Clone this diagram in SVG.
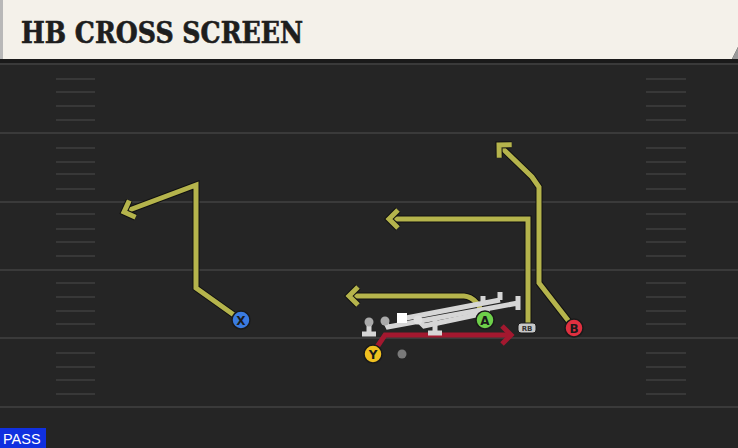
<svg xmlns="http://www.w3.org/2000/svg" width="738" height="448" viewBox="0 0 738 448">
<defs>
<style>
.yard{stroke:#3a3a3a;stroke-width:2}
.hash{stroke:#383838;stroke-width:2}
.out{fill:none;stroke:#111;stroke-width:7;stroke-linejoin:miter;stroke-linecap:butt}
.route{fill:none;stroke:#b5b44c;stroke-width:5;stroke-linejoin:miter}
.red{fill:none;stroke:#a3182f;stroke-width:5}
.blk{fill:none;stroke:#d6d6d6;stroke-width:5;stroke-linecap:butt}
.lbl{font-family:"DejaVu Sans","Liberation Sans",sans-serif;font-weight:bold;font-size:12px;fill:#1a1a1a;text-anchor:middle}
.pl{stroke:#1a1a1a;stroke-width:1.5}
</style>
<marker id="ay" markerUnits="userSpaceOnUse" markerWidth="26" markerHeight="26" refX="13" refY="13" orient="auto" viewBox="0 0 26 26">
<path d="M4,4 L13,13 L4,22" fill="none" stroke="#111" stroke-width="7"/>
<path d="M4,4 L13,13 L4,22" fill="none" stroke="#b5b44c" stroke-width="5"/>
</marker>
<marker id="ar" markerUnits="userSpaceOnUse" markerWidth="26" markerHeight="26" refX="13" refY="13" orient="auto" viewBox="0 0 26 26">
<path d="M4,4 L13,13 L4,22" fill="none" stroke="#a3182f" stroke-width="5"/>
</marker>
</defs>
<rect x="0" y="0" width="738" height="448" fill="#252525"/>
<g id="field">
<line class="yard" x1="0" y1="64" x2="738" y2="64"/>
<line class="yard" x1="0" y1="133" x2="738" y2="133"/>
<line class="yard" x1="0" y1="202" x2="738" y2="202"/>
<line class="yard" x1="0" y1="270" x2="738" y2="270"/>
<line class="yard" x1="0" y1="338" x2="738" y2="338"/>
<line class="yard" x1="0" y1="407" x2="738" y2="407"/>
<g class="hash">
<line x1="56" y1="79" x2="95" y2="79"/><line x1="56" y1="92" x2="95" y2="92"/><line x1="56" y1="106" x2="95" y2="106"/><line x1="56" y1="120" x2="95" y2="120"/>
<line x1="56" y1="148" x2="95" y2="148"/><line x1="56" y1="162" x2="95" y2="162"/><line x1="56" y1="174" x2="95" y2="174"/><line x1="56" y1="189" x2="95" y2="189"/>
<line x1="56" y1="214" x2="95" y2="214"/><line x1="56" y1="229" x2="95" y2="229"/><line x1="56" y1="242" x2="95" y2="242"/><line x1="56" y1="256" x2="95" y2="256"/>
<line x1="56" y1="283" x2="95" y2="283"/><line x1="56" y1="297" x2="95" y2="297"/><line x1="56" y1="311" x2="95" y2="311"/><line x1="56" y1="324" x2="95" y2="324"/>
<line x1="56" y1="353" x2="95" y2="353"/><line x1="56" y1="367" x2="95" y2="367"/><line x1="56" y1="380" x2="95" y2="380"/><line x1="56" y1="394" x2="95" y2="394"/>
<line x1="646" y1="79" x2="686" y2="79"/><line x1="646" y1="92" x2="686" y2="92"/><line x1="646" y1="106" x2="686" y2="106"/><line x1="646" y1="120" x2="686" y2="120"/>
<line x1="646" y1="148" x2="686" y2="148"/><line x1="646" y1="162" x2="686" y2="162"/><line x1="646" y1="174" x2="686" y2="174"/><line x1="646" y1="189" x2="686" y2="189"/>
<line x1="646" y1="214" x2="686" y2="214"/><line x1="646" y1="229" x2="686" y2="229"/><line x1="646" y1="242" x2="686" y2="242"/><line x1="646" y1="256" x2="686" y2="256"/>
<line x1="646" y1="283" x2="686" y2="283"/><line x1="646" y1="297" x2="686" y2="297"/><line x1="646" y1="311" x2="686" y2="311"/><line x1="646" y1="324" x2="686" y2="324"/>
<line x1="646" y1="353" x2="686" y2="353"/><line x1="646" y1="367" x2="686" y2="367"/><line x1="646" y1="380" x2="686" y2="380"/><line x1="646" y1="394" x2="686" y2="394"/>
</g>
</g>
<g id="header">
<rect x="0" y="58" width="738" height="5" fill="#1a1a1a"/>
<path d="M0,0 H738 V47 L732,59 H0 Z" fill="#f4f1ea"/>
<path d="M738,47 L732,59 H738 Z" fill="#9a9a9a"/>
<rect x="0" y="0" width="3" height="59" fill="#b8b8b8"/>
<text x="21" y="43" font-family="'DejaVu Serif','Liberation Serif',serif" font-weight="bold" font-size="29" font-stretch="condensed" fill="#1e1e1e" stroke="#1e1e1e" stroke-width="0.6" textLength="282" lengthAdjust="spacingAndGlyphs">HB CROSS SCREEN</text>
</g>
<g id="connectors">
<path class="out" d="M241,320 L196,288 L196,185 L124,212"/>
<path class="route" d="M241,320 L196,288 L196,185 L124,212" marker-end="url(#ay)"/>
<path class="out" d="M574,328 L539,283 L539,187 L532,177 L499,145"/>
<path class="route" d="M574,328 L539,283 L539,187 L532,177 L499,145" marker-end="url(#ay)"/>
<path class="out" d="M528,324 L528,219 L389,219"/>
<path class="route" d="M528,324 L528,219 L389,219" marker-end="url(#ay)"/>
<path class="out" d="M485,320 Q478,297 464,296 L349,296"/>
<path class="route" d="M485,320 Q478,297 464,296 L349,296" marker-end="url(#ay)"/>
<path class="red" d="M373,353 L385,335 L511,335" marker-end="url(#ar)"/>
</g>
<g id="blocks">
<path class="blk" d="M369,322 V334 M362,334 H376"/>
<circle cx="369" cy="322" r="4.5" fill="#aaaaaa"/>
<path class="blk" d="M385,321 L388,327 L518,303 M518,296 V310"/>
<circle cx="385" cy="321" r="4.5" fill="#aaaaaa"/>
<path class="blk" d="M406,318 L500,300 M500,300 V292 M483,303 V296"/>
<rect x="397" y="313" width="10" height="10" fill="#ffffff"/>
<path class="blk" d="M418,320 L424,326 L490,312"/>
<circle cx="418" cy="320" r="4.5" fill="#e0e0e0"/>
<path class="blk" d="M435,318 V333 M428,333 H442"/>
</g>
<g id="qb"><circle cx="402" cy="354" r="4.5" fill="#7a7a7a"/></g>
<g id="X"><circle class="pl" cx="241" cy="320" r="9" fill="#3a7be0"/><text class="lbl" x="241" y="324.5">X</text></g>
<g id="A"><circle class="pl" cx="485" cy="320" r="9" fill="#6ed04a"/><text class="lbl" x="485" y="324.5">A</text></g>
<g id="B"><circle class="pl" cx="574" cy="328" r="9" fill="#e03040"/><text class="lbl" x="574" y="332.5">B</text></g>
<g id="Y"><circle class="pl" cx="373" cy="354" r="9" fill="#f0c020"/><text class="lbl" x="373" y="358.5">Y</text></g>
<g id="RB"><rect x="518" y="323" width="18" height="10" rx="3" fill="#c8c8c8" stroke="#1a1a1a" stroke-width="1"/><text x="527" y="331" font-family="'DejaVu Sans',sans-serif" font-weight="bold" font-size="7" fill="#333" text-anchor="middle">RB</text></g>
<g id="pass"><rect x="0" y="428" width="46" height="20" fill="#1030e0"/><text x="3" y="444" font-family="'Liberation Sans',sans-serif" font-size="14.5" fill="#ffffff">PASS</text></g>
</svg>
